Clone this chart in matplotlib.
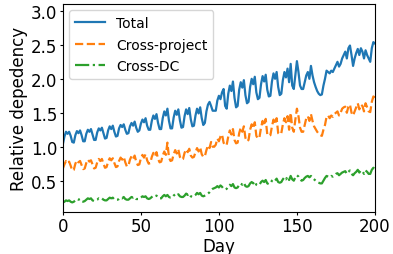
import matplotlib
matplotlib.use('Agg')
import matplotlib.pyplot as plt
import numpy as np

# daily values, one row per week (days 0..200)
total = [
    1.04, 1.15, 1.22, 1.19, 1.22, 1.16, 1.07,
    1.06, 1.17, 1.23, 1.20, 1.24, 1.17, 1.08,
    1.08, 1.19, 1.25, 1.22, 1.26, 1.18, 1.10,
    1.10, 1.21, 1.27, 1.24, 1.28, 1.20, 1.12,
    1.13, 1.24, 1.30, 1.26, 1.31, 1.22, 1.15,
    1.16, 1.27, 1.32, 1.29, 1.33, 1.25, 1.19,
    1.20, 1.30, 1.35, 1.31, 1.37, 1.28, 1.22,
    1.24, 1.34, 1.40, 1.36, 1.42, 1.31, 1.25,
    1.25, 1.38, 1.46, 1.41, 1.48, 1.35, 1.26,
    1.26, 1.42, 1.52, 1.46, 1.56, 1.38, 1.27,
    1.27, 1.43, 1.53, 1.47, 1.55, 1.39, 1.28,
    1.29, 1.45, 1.55, 1.48, 1.57, 1.40, 1.30,
    1.31, 1.46, 1.56, 1.49, 1.58, 1.42, 1.32,
    1.35, 1.52, 1.62, 1.66, 1.60, 1.53, 1.53,
    1.53, 1.68, 1.75, 1.70, 1.80, 1.85, 1.60,
    1.56, 1.78, 1.90, 1.82, 1.96, 1.72, 1.58,
    1.60, 1.84, 1.95, 1.87, 1.98, 1.76, 1.64,
    1.66, 1.88, 2.00, 1.92, 2.03, 1.80, 1.70,
    1.72, 1.92, 2.04, 1.96, 2.06, 1.84, 1.74,
    1.75, 1.96, 2.08, 2.00, 2.10, 1.88, 1.76,
    1.78, 1.98, 2.10, 2.02, 2.15, 1.95, 2.22,
    1.90, 1.85, 2.05, 2.26, 2.10, 1.90, 1.85,
    1.85, 1.95, 2.05, 2.10, 2.00, 2.19, 2.05,
    1.95, 1.88, 1.82, 1.78, 1.76, 1.77, 1.90,
    2.00, 2.12, 2.10, 2.08, 2.12, 2.10, 2.15,
    2.20, 2.25, 2.18, 2.22, 2.30, 2.35, 2.40,
    2.30, 2.45, 2.49, 2.35, 2.19, 2.30, 2.38,
    2.44, 2.35, 2.45, 2.40, 2.30, 2.42, 2.35,
    2.30, 2.25, 2.45, 2.54, 2.52,
]

cross_project = [
    0.68, 0.74, 0.79, 0.76, 0.78, 0.72, 0.65,
    0.66, 0.75, 0.80, 0.77, 0.79, 0.73, 0.67,
    0.68, 0.76, 0.81, 0.78, 0.80, 0.74, 0.68,
    0.69, 0.77, 0.82, 0.79, 0.82, 0.75, 0.69,
    0.70, 0.78, 0.83, 0.80, 0.83, 0.76, 0.70,
    0.71, 0.79, 0.84, 0.81, 0.85, 0.77, 0.71,
    0.72, 0.81, 0.86, 0.82, 0.87, 0.78, 0.73,
    0.74, 0.83, 0.88, 0.84, 0.89, 0.80, 0.75,
    0.76, 0.85, 0.91, 0.86, 0.92, 0.82, 0.77,
    0.78, 0.87, 0.93, 0.88, 1.06, 0.84, 0.79,
    0.80, 0.89, 0.95, 0.90, 0.96, 0.85, 0.81,
    0.82, 0.91, 0.96, 0.92, 0.97, 0.87, 0.84,
    0.85, 0.92, 0.98, 0.93, 0.99, 0.89, 0.85,
    0.86, 0.95, 1.02, 0.98, 1.07, 1.00, 1.00,
    1.03, 1.12, 1.08, 1.15, 1.18, 1.06, 1.02,
    1.03, 1.15, 1.24, 1.18, 1.26, 1.10, 1.05,
    1.06, 1.20, 1.28, 1.22, 1.30, 1.13, 1.08,
    1.10, 1.25, 1.33, 1.27, 1.36, 1.16, 1.12,
    1.14, 1.28, 1.38, 1.31, 1.41, 1.18, 1.16,
    1.17, 1.30, 1.40, 1.33, 1.42, 1.20, 1.18,
    1.20, 1.33, 1.42, 1.36, 1.45, 1.25, 1.50,
    1.28, 1.22, 1.40, 1.56, 1.45, 1.28, 1.22,
    1.22, 1.32, 1.42, 1.45, 1.38, 1.48, 1.38,
    1.30, 1.26, 1.22, 1.19, 1.17, 1.16, 1.25,
    1.32, 1.44, 1.46, 1.42, 1.46, 1.44, 1.48,
    1.50, 1.52, 1.46, 1.50, 1.56, 1.58, 1.59,
    1.50, 1.59, 1.62, 1.50, 1.46, 1.52, 1.58,
    1.64, 1.55, 1.62, 1.60, 1.52, 1.64, 1.58,
    1.52, 1.51, 1.66, 1.74, 1.72,
]

cross_dc = [
    0.18, 0.19, 0.21, 0.20, 0.21, 0.19, 0.18,
    0.19, 0.21, 0.23, 0.22, 0.23, 0.20, 0.19,
    0.20, 0.22, 0.24, 0.23, 0.24, 0.21, 0.20,
    0.21, 0.22, 0.24, 0.23, 0.24, 0.22, 0.21,
    0.21, 0.23, 0.25, 0.24, 0.25, 0.22, 0.22,
    0.22, 0.23, 0.25, 0.24, 0.26, 0.23, 0.22,
    0.22, 0.24, 0.26, 0.25, 0.26, 0.23, 0.23,
    0.23, 0.25, 0.27, 0.26, 0.27, 0.24, 0.23,
    0.24, 0.26, 0.28, 0.27, 0.28, 0.25, 0.24,
    0.24, 0.27, 0.29, 0.27, 0.29, 0.26, 0.25,
    0.25, 0.28, 0.30, 0.28, 0.30, 0.27, 0.26,
    0.26, 0.28, 0.31, 0.29, 0.31, 0.27, 0.26,
    0.27, 0.29, 0.32, 0.30, 0.32, 0.28, 0.27,
    0.28, 0.29, 0.31, 0.33, 0.36, 0.38, 0.39,
    0.40, 0.42, 0.40, 0.43, 0.41, 0.38, 0.37,
    0.38, 0.42, 0.44, 0.42, 0.45, 0.40, 0.39,
    0.40, 0.44, 0.46, 0.44, 0.47, 0.42, 0.41,
    0.42, 0.46, 0.48, 0.46, 0.49, 0.44, 0.43,
    0.44, 0.48, 0.50, 0.48, 0.51, 0.46, 0.45,
    0.46, 0.50, 0.52, 0.50, 0.53, 0.48, 0.47,
    0.48, 0.52, 0.55, 0.52, 0.56, 0.51, 0.57,
    0.52, 0.50, 0.55, 0.58, 0.56, 0.52, 0.50,
    0.51, 0.54, 0.56, 0.57, 0.55, 0.57, 0.54,
    0.52, 0.50, 0.48, 0.47, 0.46, 0.46, 0.50,
    0.54, 0.57, 0.56, 0.55, 0.57, 0.56, 0.58,
    0.60, 0.61, 0.58, 0.60, 0.62, 0.63, 0.64,
    0.60, 0.63, 0.65, 0.60, 0.58, 0.61, 0.63,
    0.66, 0.62, 0.65, 0.64, 0.60, 0.65, 0.63,
    0.60, 0.60, 0.66, 0.69, 0.68,
]

days = np.arange(len(total))

fig, ax = plt.subplots(figsize=(3.93, 2.55), dpi=100)
fig.subplots_adjust(left=0.160, right=0.954, top=0.980, bottom=0.165)

ax.plot(days, total, '-', lw=1.6, label='Total')
ax.plot(days, cross_project, '--', lw=1.6, label='Cross-project')
ax.plot(days, cross_dc, '-.', lw=1.6, label='Cross-DC')

ax.set_xlim(0, 200)
ax.set_ylim(0.04, 3.1)
ax.set_xticks([0, 50, 100, 150, 200])
ax.set_yticks([0.5, 1.0, 1.5, 2.0, 2.5, 3.0])
ax.tick_params(labelsize=12, length=2, pad=2)
ax.set_xlabel('Day', fontsize=12, labelpad=1)
ax.set_ylabel('Relative depedency', fontsize=12, labelpad=2)
ax.legend(loc='upper left', fontsize=10, handlelength=2.2,
          labelspacing=0.55, borderaxespad=0.45)

fig.savefig('out.png', dpi=100)
